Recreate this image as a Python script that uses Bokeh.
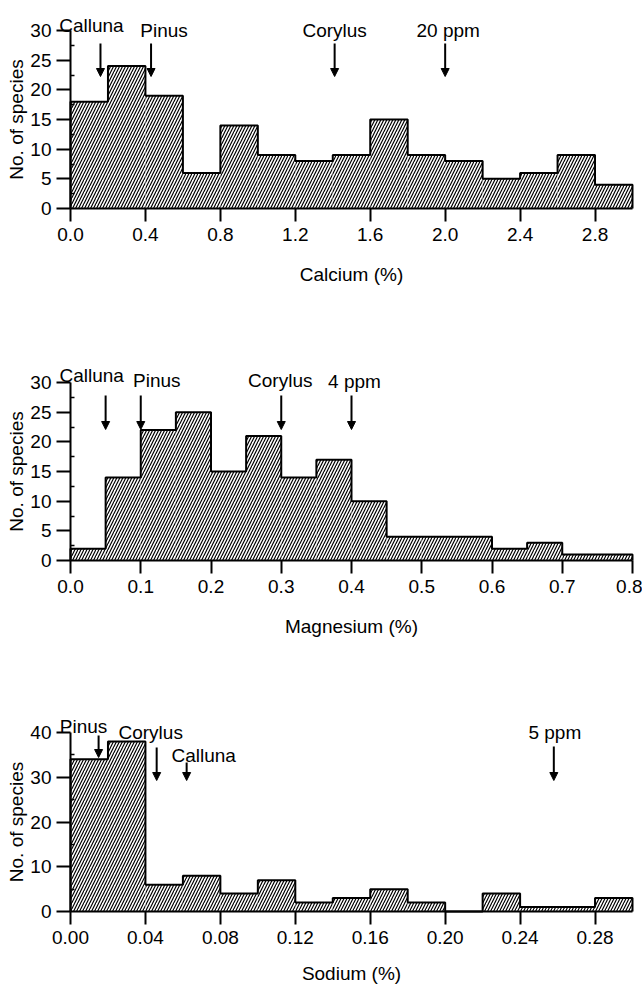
import math
from bokeh.plotting import figure
from bokeh.layouts import column
from bokeh.models import Arrow, NormalHead, FixedTicker, PrintfTickFormatter
from bokeh.core.properties import value
from bokeh.embed import file_html
from bokeh.resources import INLINE

# ---------------- data ----------------
ca_bin_width = 0.2
ca_counts = [18, 24, 19, 6, 14, 9, 8, 9, 15, 9, 8, 5, 6, 9, 4]
ca_ticks = [0.0, 0.4, 0.8, 1.2, 1.6, 2.0, 2.4, 2.8]
ca_markers = ["Calluna", "Pinus", "Corylus", "20 ppm"]
ca_marker_values = [0.16, 0.43, 1.41, 2.0]

mg_bin_width = 0.05
mg_counts = [2, 14, 22, 25, 15, 21, 14, 17, 10, 4, 4, 4, 2, 3, 1, 1]
mg_ticks = [0.0, 0.1, 0.2, 0.3, 0.4, 0.5, 0.6, 0.7, 0.8]
mg_markers = ["Calluna", "Pinus", "Corylus", "4 ppm"]
mg_marker_values = [0.05, 0.10, 0.30, 0.40]

na_bin_width = 0.02
na_counts = [34, 38, 6, 8, 4, 7, 2, 3, 5, 2, 0, 4, 1, 1, 3]
na_ticks = [0.00, 0.04, 0.08, 0.12, 0.16, 0.20, 0.24, 0.28]
na_markers = ["Pinus", "Corylus", "Calluna", "5 ppm"]
na_marker_values = [0.015, 0.046, 0.062, 0.258]

# ---------------- layout / style ----------------
FONT_NAME = "Liberation Sans"
FONT = value(FONT_NAME)
FS = "19px"
FIG_W = 642
X0_PX = 70      # pixel column of x = 0
DATA_W = 562    # pixels spanned by the data extent
YLAB_PX = 16    # pixel column of the y-axis title centre

CA_LAY = dict(top=0, height=352, zero=208, top_tick=30, ytop=30, ystep=5, fmt="%.1f",
              label_base=[25, 29.5, 29.5, 29.5], label_dx=[-9, 13, 0, 3],
              arrow_top=[43, 43, 43, 43], arrow_tip=[76, 76, 76, 76], xlab_standoff=20)
MG_LAY = dict(top=352, height=353, zero=560, top_tick=382, ytop=30, ystep=5, fmt="%.1f",
              label_base=[375, 380, 380, 381], label_dx=[-14, 16, -1, 3],
              arrow_top=[395, 395, 395, 395], arrow_tip=[429, 429, 429, 429], xlab_standoff=20)
NA_LAY = dict(top=705, height=281, zero=911, top_tick=732, ytop=40, ystep=10, fmt="%.2f",
              label_base=[726, 732, 755, 732], label_dx=[-15, -6, 17, 1],
              arrow_top=[735, 747, 762, 746], arrow_tip=[757, 780, 780, 780], xlab_standoff=16)


def make_panel(counts, bin_width, ticks, xlabel, markers, marker_values, lay):
    n = len(counts)
    edges = [i * bin_width for i in range(n + 1)]
    xmax = edges[-1]
    ytop = lay["ytop"]
    ppu = (lay["zero"] - lay["top_tick"]) / ytop
    ppx = DATA_W / xmax
    y_end = (lay["zero"] - lay["top"]) / ppu
    y_start = -(lay["top"] + lay["height"] - lay["zero"]) / ppu
    x_start = -X0_PX / ppx
    x_end = (FIG_W - X0_PX) / ppx

    p = figure(width=FIG_W, height=lay["height"], x_range=(x_start, x_end), y_range=(y_start, y_end),
               output_backend="svg", toolbar_location=None, title=None,
               min_border_left=0, min_border_right=0, min_border_top=0, min_border_bottom=0)
    p.outline_line_color = None
    p.xgrid.visible = False
    p.ygrid.visible = False
    p.background_fill_color = "white"
    p.border_fill_color = "white"

    # hatched bars
    p.quad(left=edges[:-1], right=edges[1:], bottom=0, top=counts,
           fill_color="white", line_color=None,
           hatch_pattern="/", hatch_color="black", hatch_scale=6, hatch_weight=1.2)

    # histogram outline (step)
    xs = [edges[0]]
    ys = [0]
    for i, c in enumerate(counts):
        xs += [edges[i], edges[i + 1]]
        ys += [c, c]
    xs.append(edges[-1])
    ys.append(0)
    p.line(xs, ys, line_color="black", line_width=2)

    # axes (drawn at x = 0 and y = 0 inside the canvas)
    yt = list(range(0, ytop + 1, lay["ystep"]))
    ym = [t + lay["ystep"] / 2 for t in yt[:-1]]
    p.yaxis.ticker = FixedTicker(ticks=yt, minor_ticks=ym)
    p.yaxis.bounds = (0, ytop)
    p.yaxis.fixed_location = 0
    p.xaxis.ticker = FixedTicker(ticks=ticks)
    p.xaxis.formatter = PrintfTickFormatter(format=lay["fmt"])
    p.xaxis.bounds = (0, xmax)
    p.xaxis.fixed_location = 0
    for ax in (p.xaxis, p.yaxis):
        ax.axis_line_width = 2
        ax.axis_line_color = "black"
        ax.major_tick_line_width = 2
        ax.major_tick_line_color = "black"
        ax.minor_tick_line_width = 1.5
        ax.minor_tick_line_color = "black"
        ax.major_label_text_font = FONT_NAME
        ax.major_label_text_font_size = FS
        ax.major_label_text_color = "black"
    p.xaxis.major_tick_in = 0
    p.xaxis.major_tick_out = 13
    p.xaxis.minor_tick_in = 0
    p.xaxis.minor_tick_out = 0
    p.xaxis.major_label_standoff = 6
    p.yaxis.major_tick_in = 0
    p.yaxis.major_tick_out = 14
    p.yaxis.minor_tick_in = 4
    p.yaxis.minor_tick_out = 0
    p.yaxis.major_label_standoff = 5

    p.xaxis.axis_label = xlabel
    p.xaxis.axis_label_text_font = FONT_NAME
    p.xaxis.axis_label_text_font_size = FS
    p.xaxis.axis_label_text_font_style = "normal"
    p.xaxis.axis_label_text_color = "black"
    p.xaxis.axis_label_standoff = lay["xlab_standoff"]

    # y-axis title, centred on the labelled axis extent
    p.text(x=[(YLAB_PX - X0_PX) / ppx], y=[ytop / 2], text=["No. of species"], angle=math.pi / 2,
           text_align="center", text_baseline="middle",
           text_font=FONT, text_font_size=FS, text_color="black")

    # arrows
    for v, top, tip in zip(marker_values, lay["arrow_top"], lay["arrow_tip"]):
        p.add_layout(Arrow(end=NormalHead(size=8, fill_color="black", line_color="black", line_width=1),
                           x_start=v, x_end=v,
                           y_start=(lay["zero"] - top) / ppu, y_end=(lay["zero"] - tip) / ppu,
                           line_width=2, line_color="black"))

    # arrow labels
    label_y = [(lay["zero"] - b) / ppu for b in lay["label_base"]]
    p.text(x=marker_values, y=label_y, text=markers, x_offset=lay["label_dx"],
           text_align="center", text_baseline="alphabetic",
           text_font=FONT, text_font_size=FS, text_color="black")
    return p


p1 = make_panel(ca_counts, ca_bin_width, ca_ticks, "Calcium (%)", ca_markers, ca_marker_values, CA_LAY)
p2 = make_panel(mg_counts, mg_bin_width, mg_ticks, "Magnesium (%)", mg_markers, mg_marker_values, MG_LAY)
p3 = make_panel(na_counts, na_bin_width, na_ticks, "Sodium (%)", na_markers, na_marker_values, NA_LAY)

layout = column(p1, p2, p3, spacing=0)
open("out.html", "w").write(file_html(layout, INLINE))
